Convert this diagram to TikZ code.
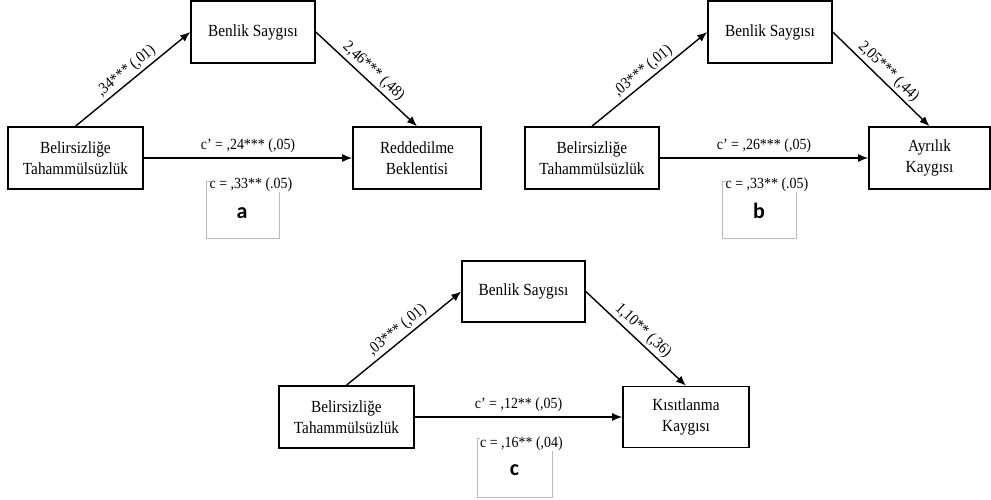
\documentclass[tikz,border=0pt]{standalone}
\usepackage{fontspec}
\usetikzlibrary{arrows.meta}
\newfontfamily\tnr[FakeStretch=0.9]{Liberation Serif}
\newfontfamily\carl{Carlito}
\tikzset{
  box/.style={draw, line width=1.6pt, minimum height=62pt, align=center, inner sep=2pt,
    font=\tnr\fontsize{17}{21}\selectfont},
  conn/.style={line width=1.4pt, -{Latex[length=10pt,width=8pt]}},
  lbl/.style={font=\tnr\fontsize{15.5}{18}\selectfont, inner sep=1pt},
  slbl/.style={font=\tnr\fontsize{16}{18}\selectfont, inner sep=1pt, sloped, above=1.5pt},
  clbl/.style={font=\tnr\fontsize{15.5}{18}\selectfont, inner sep=0pt, fill=white},
  graybox/.style={draw=black!27, line width=0.8pt},
  panel/.style={font=\carl\bfseries\fontsize{22}{24}\selectfont, anchor=base, inner sep=0pt}
}
\begin{document}
\begin{tikzpicture}[x=1pt,y=-1pt]
\useasboundingbox (0,0) rectangle (991,499);
% ---------- panel a ----------
\node[box, minimum width=135pt] (aL) at (75.5,158) {Belirsizliğe\\Tahammülsüzlük};
\node[box, minimum width=124pt] (aM) at (253,32) {Benlik Saygısı};
\node[box, minimum width=128pt] (aR) at (417,158) {Reddedilme\\Beklentisi};
\draw[graybox] (206,181) rectangle (279,238);
\node[panel] (aP) at (242,218) {a};
\draw[conn] (aL.north) -- node[slbl] {,34*** (,01)} (aM.west);
\draw[conn] (aM.east) -- node[slbl] {2,46*** (,48)} (aR.north);
\draw[conn] (aL.east) -- node[lbl, above=4pt] {c’ = ,24*** (,05)}
  node[clbl, below=19pt, xshift=3pt] {c = ,33** (.05)} (aR.west);
% ---------- panel b ----------
\node[box, minimum width=134pt] (bL) at (592,158) {Belirsizliğe\\Tahammülsüzlük};
\node[box, minimum width=124pt] (bM) at (770,32) {Benlik Saygısı};
\node[box, minimum width=121pt] (bR) at (929.5,158) {Ayrılık\\Kaygısı};
\draw[graybox] (722,181) rectangle (796,238);
\node[panel] (bP) at (759,218) {b};
\draw[conn] (bL.north) -- node[slbl] {,03*** (,01)} (bM.west);
\draw[conn] (bM.east) -- node[slbl] {2,05*** (,44)} (bR.north);
\draw[conn] (bL.east) -- node[lbl, above=4pt] {c’ = ,26*** (,05)}
  node[clbl, below=19pt, xshift=3pt] {c = ,33** (.05)} (bR.west);
% ---------- panel c ----------
\node[box, minimum width=135pt] (cL) at (346.5,417) {Belirsizliğe\\Tahammülsüzlük};
\node[box, minimum width=123pt, minimum height=61pt] (cM) at (523.5,291.5) {Benlik Saygısı};
\node[box, minimum width=126pt, minimum height=61pt] (cR) at (686,417) {Kısıtlanma\\Kaygısı};
\draw[graybox] (477,438) rectangle (552,497);
\node[panel] (cP) at (514.5,475) {c};
\draw[conn] (cL.north) -- node[slbl] {,03*** (,01)} (cM.west);
\draw[conn] (cM.east) -- node[slbl] {1,10** (,36)} (cR.north);
\draw[conn] (cL.east) -- node[lbl, above=4pt] {c’ = ,12** (,05)}
  node[clbl, below=19pt, xshift=3pt] {c = ,16** (,04)} (cR.west);
\end{tikzpicture}
\end{document}
